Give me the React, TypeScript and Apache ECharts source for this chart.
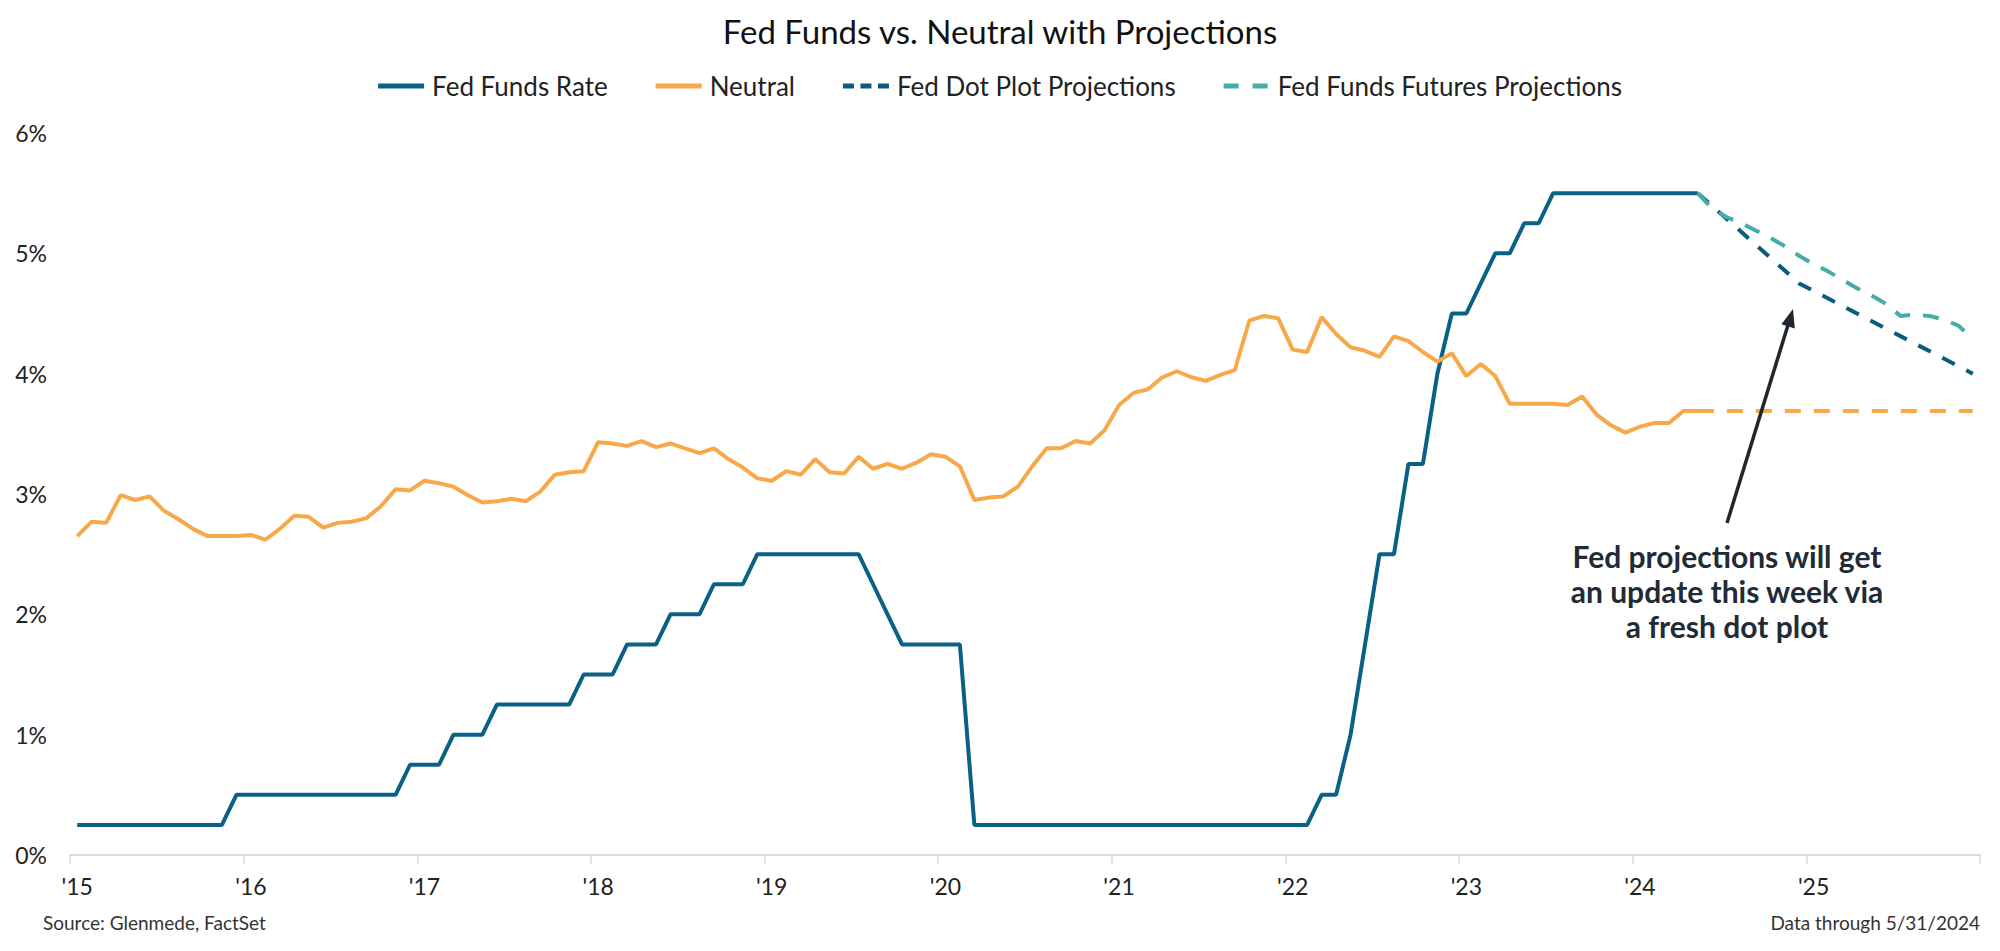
import React, { useEffect, useRef } from "react";
import * as echarts from "echarts";

// ---- Data ----
const years = [2015, 2016, 2017, 2018, 2019, 2020, 2021, 2022, 2023, 2024, 2025];
const monthsPerYear = 12;

const fedFundsRate = [
  // 2015
  0.25, 0.25, 0.25, 0.25, 0.25, 0.25, 0.25, 0.25, 0.25, 0.25, 0.25, 0.5,
  // 2016
  0.5, 0.5, 0.5, 0.5, 0.5, 0.5, 0.5, 0.5, 0.5, 0.5, 0.5, 0.75,
  // 2017
  0.75, 0.75, 1.0, 1.0, 1.0, 1.25, 1.25, 1.25, 1.25, 1.25, 1.25, 1.5,
  // 2018
  1.5, 1.5, 1.75, 1.75, 1.75, 2.0, 2.0, 2.0, 2.25, 2.25, 2.25, 2.5,
  // 2019
  2.5, 2.5, 2.5, 2.5, 2.5, 2.5, 2.5, 2.25, 2.0, 1.75, 1.75, 1.75,
  // 2020
  1.75, 1.75, 0.25, 0.25, 0.25, 0.25, 0.25, 0.25, 0.25, 0.25, 0.25, 0.25,
  // 2021
  0.25, 0.25, 0.25, 0.25, 0.25, 0.25, 0.25, 0.25, 0.25, 0.25, 0.25, 0.25,
  // 2022
  0.25, 0.25, 0.5, 0.5, 1.0, 1.75, 2.5, 2.5, 3.25, 3.25, 4.0, 4.5,
  // 2023
  4.5, 4.75, 5.0, 5.0, 5.25, 5.25, 5.5, 5.5, 5.5, 5.5, 5.5, 5.5,
  // 2024 (through May)
  5.5, 5.5, 5.5, 5.5, 5.5,
];

const neutral = [
  // 2015
  2.65, 2.77, 2.76, 2.99, 2.95, 2.98, 2.86, 2.79, 2.71, 2.65, 2.65, 2.65,
  // 2016
  2.66, 2.62, 2.71, 2.82, 2.81, 2.72, 2.76, 2.77, 2.8, 2.9, 3.04, 3.03,
  // 2017
  3.11, 3.09, 3.06, 2.99, 2.93, 2.94, 2.96, 2.94, 3.02, 3.16, 3.18, 3.19,
  // 2018
  3.43, 3.42, 3.4, 3.44, 3.39, 3.42, 3.38, 3.34, 3.38, 3.29, 3.22, 3.13,
  // 2019
  3.11, 3.19, 3.16, 3.29, 3.18, 3.17, 3.31, 3.21, 3.25, 3.21, 3.26, 3.33,
  // 2020
  3.31, 3.23, 2.95, 2.97, 2.98, 3.06, 3.23, 3.38, 3.38, 3.44, 3.42, 3.53,
  // 2021
  3.74, 3.84, 3.87, 3.97, 4.02, 3.97, 3.94, 3.99, 4.03, 4.44, 4.48, 4.46,
  // 2022
  4.2, 4.18, 4.47, 4.33, 4.22, 4.19, 4.14, 4.31, 4.27, 4.18, 4.1, 4.17,
  // 2023
  3.98, 4.08, 3.98, 3.75, 3.75, 3.75, 3.75, 3.74, 3.81, 3.66, 3.57, 3.51,
  // 2024 (through May)
  3.56, 3.59, 3.59, 3.69, 3.69,
];

// Projections start at May 2024 (index 112) and run to Dec 2025 (index 131)
const projectionStart = 112;
const neutralProjection = [3.69, 3.69]; // May 2024 .. Dec 2025 (flat)
const neutralProjectionIdx = [112, 131];
const dotPlotValues = [5.5, 4.75, 4.0];
const dotPlotIdx = [112, 119, 131];
const futuresValues = [
  5.5, 5.37, 5.3, 5.25, 5.19, 5.13, 5.06, 4.98, 4.91, 4.85,
  4.78, 4.71, 4.65, 4.58, 4.48, 4.49, 4.48, 4.45, 4.4, 4.29,
];

const yTicks = [0, 1, 2, 3, 4, 5, 6];

const FONT = "Lato, 'Noto Sans', sans-serif";

function buildCategories() {
  const cats: string[] = [];
  years.forEach((y) => {
    for (let m = 1; m <= monthsPerYear; m++) cats.push(`${y}-${m}`);
  });
  return cats;
}

function sparse(len: number, idx: number[], vals: number[]) {
  const arr: (number | null)[] = new Array(len).fill(null);
  idx.forEach((k, j) => (arr[k] = vals[j]));
  return arr;
}

const ICON_SOLID = "path://M0 0H46V5H0Z";
const ICON_DOTS = "path://M0 0H11V5H0Z M17.5 0H28.5V5H17.5Z M35 0H46V5H35Z";
const ICON_DASH = "path://M0 0H15V5H0Z M29 0H44V5H29Z M46 0H46V5H46Z";

export default function App() {
  const ref = useRef<HTMLDivElement>(null);

  useEffect(() => {
    document.body.style.margin = "0";
    if (!ref.current) return;
    const chart = echarts.init(ref.current, undefined, { renderer: "svg" });
    const categories = buildCategories();
    const n = categories.length;

    const futuresData: (number | null)[] = new Array(n).fill(null);
    futuresValues.forEach((v, j) => (futuresData[projectionStart + j] = v));

    const isYearStart = (index: number) => index % 12 === 0;

    const C_FED = "#0a6186";
    const C_NEU = "#f7a94a";
    const C_DOT = "#0b5a80";
    const C_FUT = "#46aca7";

    chart.setOption({
      animation: false,
      backgroundColor: "#ffffff",
      title: {
        text: "Fed Funds vs. Neutral with Projections",
        left: "center",
        top: 9,
        textStyle: { fontFamily: FONT, fontSize: 33, fontWeight: "normal", color: "#111" },
      },
      legend: {
        top: 68,
        left: "center",
        itemWidth: 46,
        itemHeight: 5,
        itemGap: 48,
        textStyle: { fontFamily: FONT, fontSize: 26, color: "#222", padding: [0, 0, 0, 3] },
        data: [
          { name: "Fed Funds Rate", icon: ICON_SOLID, itemStyle: { borderWidth: 0 } },
          { name: "Neutral", icon: ICON_SOLID, itemStyle: { borderWidth: 0 } },
          { name: "Fed Dot Plot Projections", icon: ICON_DOTS, itemStyle: { borderWidth: 0 } },
          { name: "Fed Funds Futures Projections", icon: ICON_DASH, itemStyle: { borderWidth: 0 } },
        ],
      },
      grid: { left: 70, right: 20, top: 133, bottom: 96, containLabel: false },
      xAxis: {
        type: "category",
        data: categories,
        boundaryGap: true,
        axisLine: { show: true, lineStyle: { color: "#d5dbe1", width: 2 } },
        axisTick: {
          show: true,
          length: 9,
          interval: (index: number) => isYearStart(index),
          lineStyle: { color: "#d5dbe1", width: 1.5 },
        },
        axisLabel: {
          interval: (index: number) => isYearStart(index),
          formatter: (v: string) => "'" + v.slice(2, 4),
          fontFamily: FONT,
          fontSize: 23,
          color: "#222",
          margin: 19,
        },
        splitLine: { show: false },
      },
      yAxis: {
        type: "value",
        min: yTicks[0],
        max: yTicks[yTicks.length - 1],
        interval: 1,
        axisLine: { show: false },
        axisTick: { show: false },
        splitLine: { show: false },
        axisLabel: {
          formatter: "{value}%",
          fontFamily: FONT,
          fontSize: 23,
          color: "#222",
          margin: 23,
        },
      },
      series: [
        {
          name: "Fed Funds Rate",
          type: "line",
          data: fedFundsRate,
          symbol: "none",
          lineStyle: { color: C_FED, width: 4 },
          itemStyle: { color: C_FED },
        },
        {
          name: "Neutral",
          type: "line",
          data: neutral,
          symbol: "none",
          lineStyle: { color: C_NEU, width: 4 },
          itemStyle: { color: C_NEU },
        },
        {
          name: "Neutral Projection",
          type: "line",
          data: sparse(n, neutralProjectionIdx, neutralProjection),
          connectNulls: true,
          symbol: "none",
          lineStyle: { color: C_NEU, width: 4, type: [16, 13] },
          itemStyle: { color: C_NEU },
        },
        {
          name: "Fed Dot Plot Projections",
          type: "line",
          data: sparse(n, dotPlotIdx, dotPlotValues),
          connectNulls: true,
          symbol: "none",
          lineStyle: { color: C_DOT, width: 4, type: [14, 13] },
          itemStyle: { color: C_DOT },
        },
        {
          name: "Fed Funds Futures Projections",
          type: "line",
          data: futuresData,
          symbol: "none",
          lineStyle: { color: C_FUT, width: 4, type: [16, 13] },
          itemStyle: { color: C_FUT },
        },
      ],
      graphic: [
        {
          type: "line",
          shape: { x1: 1727, y1: 523, x2: 1788, y2: 325 },
          style: { stroke: "#1f262e", lineWidth: 3.5 },
          z: 10,
        },
        {
          type: "polygon",
          shape: { points: [[1793, 309], [1794.8, 328.5], [1781.4, 324.3]] },
          style: { fill: "#1f262e" },
          z: 10,
        },
        {
          type: "text",
          x: 1727,
          y: 538,
          z: 10,
          style: {
            text: "Fed projections will get\nan update this week via\na fresh dot plot",
            fontFamily: FONT,
            fontSize: 30,
            fontWeight: "bold",
            lineHeight: 35,
            fill: "#212b36",
            align: "center",
            verticalAlign: "top",
          },
        },
        {
          type: "text",
          left: 43,
          top: 913,
          style: {
            text: "Source: Glenmede, FactSet",
            fontFamily: FONT,
            fontSize: 19,
            fill: "#333",
          },
        },
        {
          type: "text",
          right: 20,
          top: 913,
          style: {
            text: "Data through 5/31/2024",
            fontFamily: FONT,
            fontSize: 19,
            fill: "#333",
          },
        },
      ],
    });

    return () => chart.dispose();
  }, []);

  return <div ref={ref} style={{ width: 2000, height: 951 }} />;
}
